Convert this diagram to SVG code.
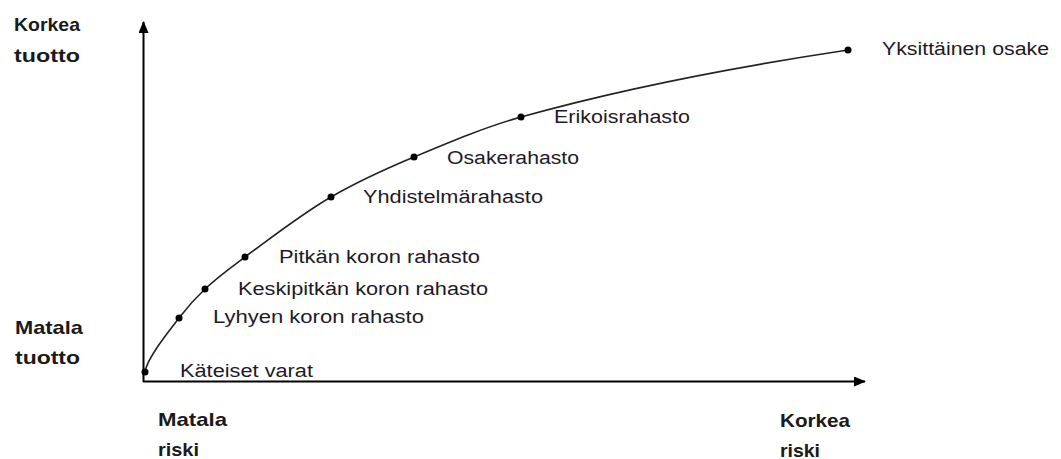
<svg xmlns="http://www.w3.org/2000/svg" width="1061" height="459" viewBox="0 0 1061 459">
<style>
.lbl{font-family:"Liberation Sans",Arial,sans-serif;font-size:18px;fill:#1e1a28}
.ax{font-family:"Liberation Sans",Arial,sans-serif;font-size:19px;font-weight:bold;fill:#1a1a1a}
.dot{fill:#000}
.axis{stroke:#000;stroke-width:2;fill:none}
.curve{stroke:#222;stroke-width:1.6;fill:none}
</style>
<defs>
<marker id="arr" viewBox="0 0 12 10" refX="11" refY="5" markerWidth="12" markerHeight="10" markerUnits="userSpaceOnUse" orient="auto">
<path d="M0,0 L12,5 L0,10 Z" fill="#000"/>
</marker>
</defs>
<g id="connectors">
<line class="axis" x1="143.5" y1="382" x2="143.5" y2="22" marker-end="url(#arr)"/>
<line class="axis" x1="143" y1="381.5" x2="865" y2="381.5" marker-end="url(#arr)"/>
<path class="curve" d="M145,372 C147,358 167.7,333.1 179,318 C187.7,306.5 196.3,297.2 205,289 C218.3,276.5 231.7,266.9 245,257 C273.7,235.8 302.3,213.6 331,197 C358.7,180.9 386.3,168.6 414,157 C449.7,142 485.3,127 521,117 C630,86.5 739,66.4 848,50"/>
</g>
<g id="axis-labels">
<text class="ax" x="14" y="31" textLength="66" lengthAdjust="spacingAndGlyphs">Korkea</text>
<text class="ax" x="14" y="62" textLength="66" lengthAdjust="spacingAndGlyphs">tuotto</text>
<text class="ax" x="15" y="334" textLength="68" lengthAdjust="spacingAndGlyphs">Matala</text>
<text class="ax" x="15" y="364" textLength="65" lengthAdjust="spacingAndGlyphs">tuotto</text>
<text class="ax" x="158" y="426" textLength="69" lengthAdjust="spacingAndGlyphs">Matala</text>
<text class="ax" x="158" y="456" textLength="41" lengthAdjust="spacingAndGlyphs">riski</text>
<text class="ax" x="780" y="427" textLength="70" lengthAdjust="spacingAndGlyphs">Korkea</text>
<text class="ax" x="780" y="457" textLength="40" lengthAdjust="spacingAndGlyphs">riski</text>
</g>
<g id="n-kateiset"><circle class="dot" cx="145" cy="372" r="3.5"/><text class="lbl" x="180" y="377" textLength="133" lengthAdjust="spacingAndGlyphs">Käteiset varat</text></g>
<g id="n-lyhyen"><circle class="dot" cx="179" cy="318" r="3.5"/><text class="lbl" x="213" y="323" textLength="211" lengthAdjust="spacingAndGlyphs">Lyhyen koron rahasto</text></g>
<g id="n-keskipitkan"><circle class="dot" cx="205" cy="289" r="3.5"/><text class="lbl" x="238" y="295" textLength="250" lengthAdjust="spacingAndGlyphs">Keskipitkän koron rahasto</text></g>
<g id="n-pitkan"><circle class="dot" cx="245" cy="257" r="3.5"/><text class="lbl" x="279" y="263" textLength="201" lengthAdjust="spacingAndGlyphs">Pitkän koron rahasto</text></g>
<g id="n-yhdistelma"><circle class="dot" cx="331" cy="197" r="3.5"/><text class="lbl" x="363" y="203" textLength="180" lengthAdjust="spacingAndGlyphs">Yhdistelmärahasto</text></g>
<g id="n-osake"><circle class="dot" cx="414" cy="157" r="3.5"/><text class="lbl" x="447" y="164" textLength="132" lengthAdjust="spacingAndGlyphs">Osakerahasto</text></g>
<g id="n-erikois"><circle class="dot" cx="521" cy="117" r="3.5"/><text class="lbl" x="554" y="123" textLength="136" lengthAdjust="spacingAndGlyphs">Erikoisrahasto</text></g>
<g id="n-yksittainen"><circle class="dot" cx="848" cy="50" r="3.5"/><text class="lbl" x="882" y="55" textLength="167" lengthAdjust="spacingAndGlyphs">Yksittäinen osake</text></g>
</svg>
